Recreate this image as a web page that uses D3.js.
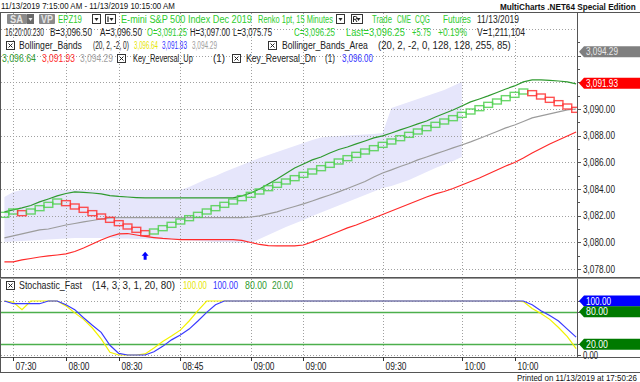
<!DOCTYPE html>
<html>
<head>
<meta charset="utf-8">
<script src="https://d3js.org/d3.v7.min.js"></script>
<style>
  body { margin: 0; padding: 0; background: #fff; }
  svg text { font-family: Arial, 'Liberation Sans', sans-serif; }
</style>
</head>
<body>
<svg id="chart" width="640" height="382"></svg>
<script>
// renko brick closes, one per bar
const brickClose = [3082.25, 3082.5, 3082.0, 3082.5, 3082.75, 3083.0, 3083.25, 3082.75, 3082.5, 3082.25,
  3082.0, 3081.75, 3081.5, 3081.25, 3081.0, 3080.75, 3080.5, 3081.0, 3081.25, 3081.5,
  3081.75, 3082.0, 3082.25, 3082.5, 3082.75, 3083.0, 3083.25, 3083.5, 3083.75, 3084.0,
  3084.25, 3084.5, 3084.75, 3085.0, 3085.25, 3085.5, 3085.75, 3086.0, 3086.25, 3086.5,
  3086.75, 3087.0, 3087.25, 3087.5, 3087.75, 3088.0, 3088.25, 3088.5, 3088.75, 3089.0,
  3089.25, 3089.5, 3089.75, 3090.0, 3090.25, 3090.5, 3090.75, 3091.0, 3091.25, 3091.5,
  3091.0, 3090.75, 3090.5, 3090.25, 3090.0, 3089.75];

const bbUpper = [3082.28, 3082.43, 3082.58, 3082.76, 3083.03, 3083.25, 3083.48, 3083.66, 3083.78, 3083.74,
  3083.70, 3083.63, 3083.51, 3083.44, 3083.40, 3083.36, 3083.33, 3083.33, 3083.33, 3083.33,
  3083.33, 3083.33, 3083.33, 3083.33, 3083.33, 3083.33, 3083.33, 3083.48, 3083.70, 3084.00,
  3084.38, 3084.75, 3085.16, 3085.58, 3085.88, 3086.18, 3086.40, 3086.70, 3086.96, 3087.15,
  3087.38, 3087.60, 3087.83, 3087.98, 3088.20, 3088.43, 3088.65, 3088.88, 3089.10, 3089.40,
  3089.66, 3089.93, 3090.23, 3090.53, 3090.75, 3090.98, 3091.24, 3091.50, 3091.73, 3092.03,
  3092.18, 3092.18, 3092.14, 3092.10, 3092.03, 3091.88];

const bbMid = [3080.33, 3080.48, 3080.63, 3080.78, 3080.93, 3081.00, 3081.15, 3081.30, 3081.41, 3081.53,
  3081.64, 3081.75, 3081.83, 3081.86, 3081.86, 3081.86, 3081.86, 3081.86, 3081.86, 3081.86,
  3081.86, 3081.86, 3081.86, 3081.86, 3081.86, 3081.86, 3081.86, 3081.86, 3081.90, 3081.98,
  3082.13, 3082.28, 3082.50, 3082.69, 3082.88, 3083.10, 3083.33, 3083.55, 3083.78, 3084.04,
  3084.30, 3084.56, 3084.90, 3085.20, 3085.43, 3085.69, 3085.91, 3086.18, 3086.40, 3086.63,
  3086.85, 3087.08, 3087.30, 3087.53, 3087.79, 3088.05, 3088.31, 3088.58, 3088.80, 3089.06,
  3089.33, 3089.48, 3089.63, 3089.78, 3089.93, 3090.00];

const bbLower = [3078.53, 3078.53, 3078.68, 3078.79, 3078.90, 3078.98, 3079.05, 3079.13, 3079.31, 3079.58,
  3079.88, 3080.18, 3080.44, 3080.63, 3080.66, 3080.55, 3080.44, 3080.36, 3080.29, 3080.25,
  3080.21, 3080.21, 3080.21, 3080.21, 3080.21, 3080.21, 3080.21, 3080.14, 3079.99, 3079.84,
  3079.76, 3079.73, 3079.73, 3079.73, 3079.80, 3080.03, 3080.29, 3080.55, 3080.81, 3081.08,
  3081.30, 3081.56, 3081.83, 3082.09, 3082.35, 3082.61, 3082.88, 3083.14, 3083.40, 3083.63,
  3083.81, 3084.04, 3084.30, 3084.56, 3084.83, 3085.13, 3085.43, 3085.73, 3085.99, 3086.33,
  3086.70, 3087.04, 3087.38, 3087.68, 3087.98, 3088.28];

// Bollinger_Bands_Area boundaries
const areaUpper = [3083.40, 3083.78, 3083.93, 3083.93, 3083.93, 3083.93, 3083.93, 3083.93, 3083.93, 3083.93,
  3083.93, 3083.93, 3083.93, 3083.93, 3083.93, 3083.93, 3083.93, 3083.93, 3083.93, 3083.93,
  3083.93, 3084.15, 3084.45, 3084.75, 3084.98, 3085.28, 3085.54, 3085.80, 3086.06, 3086.33,
  3086.55, 3086.78, 3087.00, 3087.23, 3087.45, 3087.68, 3087.86, 3087.94, 3087.98, 3088.01,
  3088.05, 3088.09, 3088.13, 3088.20, 3090.08, 3090.30, 3090.53, 3090.75, 3090.98, 3091.20,
  3091.43, 3091.73, 3092.03];
const areaLower = [3080.03, 3080.06, 3080.10, 3080.14, 3080.18, 3080.21, 3080.25, 3080.29, 3080.33, 3080.33,
  3080.33, 3080.33, 3080.33, 3080.29, 3080.29, 3080.25, 3080.25, 3080.21, 3080.21, 3080.18,
  3080.18, 3080.14, 3080.10, 3080.06, 3080.03, 3080.03, 3079.99, 3079.95, 3079.95, 3080.25,
  3080.55, 3080.85, 3081.15, 3081.41, 3081.68, 3081.98, 3082.24, 3082.50, 3082.76, 3083.03,
  3083.29, 3083.55, 3083.81, 3084.08, 3084.23, 3084.45, 3084.68, 3084.98, 3085.28, 3085.58,
  3085.84, 3086.10, 3086.40];

const keyRevUp = [{ bar: 16, price: 3079.0 }];

// Stochastic_Fast
const stochK = [100, 98, 84, 100, 100, 100, 100, 91, 78, 66, 50, 30, 5, 0, 0, 0, 2, 13, 25, 35,
  46, 63, 82, 100, 100, 100, 100, 100, 100, 100, 100, 100, 100, 100, 100, 100, 100, 100, 100, 100,
  100, 100, 100, 100, 100, 100, 100, 100, 100, 100, 100, 100, 100, 100, 100, 100, 100, 100, 100, 99,
  86, 77, 66, 51, 34, 12];
const stochD = [100, 95, 95, 95, 95, 100, 100, 93, 84, 69, 55, 42, 18, 3, 0, 0, 0, 6, 16, 28,
  37, 48, 63, 79, 93, 100, 100, 100, 100, 100, 100, 100, 100, 100, 100, 100, 100, 100, 100, 100,
  100, 100, 100, 100, 100, 100, 100, 100, 100, 100, 100, 100, 100, 100, 100, 100, 100, 100, 100, 100,
  93, 82, 73, 63, 48, 33];
const stochLevels = [80, 20];

const timeBars = [1, 7, 13, 20, 28, 34, 43, 52, 58];
const timeLabels = ["07:30", "08:00", "08:30", "08:45", "09:00", "09:00", "09:30", "10:00", "10:00"];
const priceTicks = [3078, 3080, 3082, 3084, 3086, 3088, 3090, 3092, 3094, 3096];
const priceLabels = [3078, 3080, 3082, 3084, 3086, 3088, 3090];

const svg = d3.select("#chart");
const paneR = 577, mainTop = 13, mainBot = 277, lowTop = 279, lowBot = 357, axisBot = 372;
const K = 0.82; // screen text is horizontally squeezed

const x = d3.scaleLinear().domain([-0.5, 65.1]).range([0, paneR]);
const y = d3.scaleLinear().domain([3078, 3090]).range([269, 109]);
const ys = d3.scaleLinear().domain([0, 100]).range([355, 301]);
const fmt = d3.format(",.2f");

// text squeezed horizontally to the width it has on the screenshot
function txt(g, px, py, s, fill, w, size, weight) {
  const t = g.append("text").attr("fill", fill).attr("font-size", size || 10).text(s);
  if (weight) t.attr("font-weight", weight);
  let k = K;
  if (w) {
    const L = t.node().getComputedTextLength();
    if (L > 0) k = w / L;
  }
  t.attr("transform", `translate(${px},${py}) scale(${k},1)`);
  return t;
}
function xbox(g, px, py) {
  g.append("rect").attr("x", px + 0.5).attr("y", py + 0.5).attr("width", 8).attr("height", 8)
    .attr("fill", "#fff").attr("stroke", "#333");
  g.append("path").attr("d", `M${px + 2.5},${py + 2.5}L${px + 6.5},${py + 6.5}M${px + 6.5},${py + 2.5}L${px + 2.5},${py + 6.5}`)
    .attr("stroke", "#222").attr("stroke-width", 1);
}
function dropBox(g, px, py, w, letter) {
  g.append("rect").attr("x", px + 0.5).attr("y", py + 0.5).attr("width", w).attr("height", 9)
    .attr("fill", "#fff").attr("stroke", "#333");
  const tx = px + w - 3.5;
  g.append("path").attr("d", `M${tx - 2},${py + 4}L${tx + 2},${py + 4}L${tx},${py + 7}Z`).attr("fill", "#222");
  if (letter === "I") g.append("line").attr("x1", px + 3).attr("x2", px + 3).attr("y1", py + 2.5).attr("y2", py + 8)
    .attr("stroke", "#222").attr("stroke-width", 1.2);
  if (letter === "R") g.append("path").attr("d", `M${px + 2.5},${py + 8}L${px + 2.5},${py + 2.5}L${px + 4.5},${py + 2.5}Q${px + 6},${py + 2.5} ${px + 6},${py + 4}Q${px + 6},${py + 5.3} ${px + 4.5},${py + 5.3}L${px + 2.5},${py + 5.3}M${px + 4.3},${py + 5.3}L${px + 6},${py + 8}`)
    .attr("fill", "none").attr("stroke", "#222").attr("stroke-width", 1);
}

// clip for panes
svg.append("clipPath").attr("id", "mainClip").append("rect")
  .attr("x", 1).attr("y", mainTop).attr("width", paneR - 1).attr("height", mainBot - mainTop);
svg.append("clipPath").attr("id", "lowClip").append("rect")
  .attr("x", 1).attr("y", lowTop).attr("width", paneR - 1).attr("height", lowBot - lowTop);

const main = svg.append("g").attr("clip-path", "url(#mainClip)");

// area
const idx = d3.range(areaUpper.length);
main.append("path").datum(idx)
  .attr("d", d3.area().x(i => x(i)).y0(i => y(areaLower[i])).y1(i => y(areaUpper[i])))
  .attr("fill", "#e6e6fb");

// grid
const grid = main.append("g").attr("stroke", "#a0a0a0").attr("stroke-dasharray", "1,2").attr("stroke-width", 1);
priceTicks.forEach(p => grid.append("line").attr("x1", 1).attr("x2", paneR)
  .attr("y1", Math.round(y(p)) + 0.5).attr("y2", Math.round(y(p)) + 0.5));
timeBars.forEach(b => grid.append("line").attr("x1", Math.round(x(b)) + 0.5).attr("x2", Math.round(x(b)) + 0.5)
  .attr("y1", mainTop).attr("y2", mainBot));

// bollinger lines
const line = d3.line().x((d, i) => x(i)).y(d => y(d));
main.append("path").datum(bbMid).attr("d", line).attr("fill", "none").attr("stroke", "#9c9c9c").attr("stroke-width", 1.2);
main.append("path").datum(bbLower).attr("d", line).attr("fill", "none").attr("stroke", "#ff2a2a").attr("stroke-width", 1.2);
main.append("path").datum(bbUpper).attr("d", line).attr("fill", "none").attr("stroke", "#2f9a2f").attr("stroke-width", 1.2);

// renko bricks
const bw = x(1) - x(0);
const bh = 0.375;
brickClose.forEach((c, i) => {
  const up = i === 0 ? true : c > brickClose[i - 1];
  const top = up ? c : c + bh, bot = up ? c - bh : c;
  main.append("rect").attr("x", x(i) - bw / 2).attr("y", y(top)).attr("width", bw)
    .attr("height", y(bot) - y(top)).attr("fill", "none")
    .attr("stroke", up ? "#50d050" : "#ff3333").attr("stroke-width", 1.4).attr("stroke-opacity", 0.85);
});

// key reversal up arrows
keyRevUp.forEach(k => {
  const ax = x(k.bar), ay = y(k.price);
  main.append("path").attr("d", `M${ax},${ay - 4}L${ax + 3.5},${ay}L${ax + 1.5},${ay}L${ax + 1.5},${ay + 4}L${ax - 1.5},${ay + 4}L${ax - 1.5},${ay}L${ax - 3.5},${ay}Z`)
    .attr("fill", "#0000ff");
});

// lower pane
const low = svg.append("g").attr("clip-path", "url(#lowClip)");
const lgrid = low.append("g").attr("stroke", "#a0a0a0").attr("stroke-dasharray", "1,2");
[100, 0].forEach(v => lgrid.append("line").attr("x1", 1).attr("x2", paneR)
  .attr("y1", Math.round(ys(v)) + 0.5).attr("y2", Math.round(ys(v)) + 0.5));
timeBars.forEach(b => lgrid.append("line").attr("x1", Math.round(x(b)) + 0.5).attr("x2", Math.round(x(b)) + 0.5)
  .attr("y1", lowTop).attr("y2", lowBot));
stochLevels.forEach(v => low.append("line").attr("x1", 1).attr("x2", paneR)
  .attr("y1", Math.round(ys(v)) + 0.5).attr("y2", Math.round(ys(v)) + 0.5)
  .attr("stroke", "#4caf4c").attr("stroke-width", 1.3));
const sline = d3.line().x((d, i) => x(i)).y(d => ys(d));
low.append("path").datum(stochK).attr("d", sline).attr("fill", "none").attr("stroke", "#f2f200").attr("stroke-width", 1.2);
low.append("path").datum(stochD).attr("d", sline).attr("fill", "none").attr("stroke", "#3a3aff").attr("stroke-width", 1.2);

// frames
const fr = svg.append("g").attr("stroke", "#555").attr("fill", "none");
fr.append("line").attr("x1", 0).attr("x2", 640).attr("y1", 12.5).attr("y2", 12.5);
fr.append("line").attr("x1", 0.5).attr("x2", 0.5).attr("y1", 12).attr("y2", axisBot);
fr.append("line").attr("x1", paneR + 0.5).attr("x2", paneR + 0.5).attr("y1", 12).attr("y2", lowBot);
fr.append("line").attr("x1", 0).attr("x2", 640).attr("y1", mainBot + 0.5).attr("y2", mainBot + 0.5);
fr.append("line").attr("x1", 0).attr("x2", 640).attr("y1", lowTop - 0.5).attr("y2", lowTop - 0.5).attr("stroke", "#999");
fr.append("line").attr("x1", 0).attr("x2", 640).attr("y1", lowBot + 0.5).attr("y2", lowBot + 0.5);
fr.append("line").attr("x1", 0).attr("x2", 640).attr("y1", axisBot + 0.5).attr("y2", axisBot + 0.5);

// price axis
const pax = svg.append("g");
d3.range(3077, 3096).forEach(p => {
  const py = Math.round(y(p)) + 0.5;
  if (py > mainTop && py < mainBot) pax.append("line").attr("x1", paneR).attr("x2", paneR + (p % 2 === 0 ? 4 : 3))
    .attr("y1", py).attr("y2", py).attr("stroke", "#555");
});
priceLabels.forEach(p => txt(pax, 583, y(p) + 3.5, fmt(p), "#222", 32, 10));

function tag(g, py, s, fill, color, w) {
  g.append("path").attr("d", `M579,${py}L584,${py - 5.5}L640,${py - 5.5}L640,${py + 5.5}L584,${py + 5.5}Z`).attr("fill", fill);
  txt(g, 586, py + 3.5, s, color, w, 10);
}
tag(pax, y(3094.29), "3,094.29", "#7f7f7f", "#e8e8e8", 32);
tag(pax, y(3091.93), "3,091.93", "#ff0000", "#ffffff", 32);

// stochastic axis
[0, 20, 80, 100].forEach(v => pax.append("line").attr("x1", paneR).attr("x2", paneR + 4)
  .attr("y1", Math.round(ys(v)) + 0.5).attr("y2", Math.round(ys(v)) + 0.5).attr("stroke", "#555"));
tag(pax, ys(100), "100.00", "#0000ff", "#ffffff", 25);
tag(pax, ys(80), "80.00", "#007a00", "#ffffff", 22);
tag(pax, ys(20), "20.00", "#007a00", "#ffffff", 22);
txt(pax, 583, ys(0) + 3.5, "0.00", "#222", 15, 10);

// time axis
const tax = svg.append("g");
timeBars.forEach((b, i) => {
  const tx = Math.round(x(b)) + 0.5;
  tax.append("line").attr("x1", tx).attr("x2", tx).attr("y1", lowBot).attr("y2", lowBot + 4).attr("stroke", "#333");
  txt(tax, tx + 2, 370, timeLabels[i], "#222", 21, 10);
});

// titles
const hd = svg.append("g");
txt(hd, 1, 9, "11/13/2019 7:15:00 AM - 11/13/2019 10:15:00 AM", "#111", 174, 9);
txt(hd, 500, 9.5, "MultiCharts .NET64 Special Edition", "#111", 136, 9, "bold");
txt(hd, 517, 381, "Printed on 11/13/2019 at 17:50:26", "#111", 120, 9);

// legend line 1
hd.append("rect").attr("x", 7).attr("y", 14).attr("width", 20).attr("height", 10).attr("fill", "#8a8a8a").attr("rx", 1);
hd.append("rect").attr("x", 27).attr("y", 14).attr("width", 7).attr("height", 10).attr("fill", "#6a6a6a");
hd.append("path").attr("d", "M28.5,18L32.5,18L30.5,21Z").attr("fill", "#eee");
txt(hd, 10, 22.5, "SA", "#e6e6e6", 13, 10, "bold");
hd.append("rect").attr("x", 39).attr("y", 14).attr("width", 16).attr("height", 10).attr("fill", "#8a8a8a").attr("rx", 1);
txt(hd, 41, 22.5, "VP", "#e6e6e6", 12, 10, "bold");
txt(hd, 58, 23, "EPZ19", "#2ecc2e", 24, 10);
dropBox(hd, 92, 14, 8, "");
dropBox(hd, 105, 14, 10, "I");
txt(hd, 121, 23, "E-mini S&P 500 Index Dec 2019", "#2ecc2e", 131, 10);
txt(hd, 258, 23, "Renko 1pt, 15 Minutes", "#2ecc2e", 75, 10);
dropBox(hd, 336, 14, 8, "");
dropBox(hd, 351, 14, 11, "R");
txt(hd, 372, 23, "Trade", "#2ecc2e", 20, 10);
txt(hd, 397, 23, "CME", "#2ecc2e", 14, 10);
txt(hd, 415, 23, "CQG", "#2ecc2e", 15, 10);
txt(hd, 443, 23, "Futures", "#2ecc2e", 28, 10);
txt(hd, 477, 23, "11/13/2019", "#222", 42, 10);

// legend line 2
txt(hd, 5, 36, "16:20:00.230", "#222", 39, 10);
txt(hd, 50, 36, "B=3,096.50", "#222", 42, 10);
txt(hd, 100, 36, "A=3,096.50", "#222", 42, 10);
txt(hd, 147, 36, "O=3,091.25", "#2ecc2e", 40, 10);
txt(hd, 190, 36, "H=3,097.00", "#222", 40, 10);
txt(hd, 233, 36, "L=3,075.75", "#222", 39, 10);
txt(hd, 294, 36, "C=3,096.25", "#2ecc2e", 41, 10);
txt(hd, 346, 36, "Last=3,096.25", "#2ecc2e", 59, 10);
txt(hd, 412, 36, "+5.75", "#2ecc2e", 19, 10);
txt(hd, 438, 36, "+0.19%", "#2ecc2e", 29, 10);
txt(hd, 477, 36, "V=1,211,104", "#222", 48, 10);

// legend line 3
xbox(hd, 6, 41);
txt(hd, 19, 49, "Bollinger_Bands", "#222", 63, 10);
txt(hd, 93, 49, "(20, 2, -2, 0)", "#222", 36, 10);
txt(hd, 134, 49, "3,096.64", "#e6e600", 24, 10);
txt(hd, 162, 49, "3,091.93", "#3333ff", 25, 10);
txt(hd, 192, 49, "3,094.29", "#a0a0a0", 25, 10);
xbox(hd, 268, 41);
txt(hd, 282, 49, "Bollinger_Bands_Area", "#222", 86, 10);
txt(hd, 378, 49, "(20, 2, -2, 0, 128, 128, 255, 85)", "#222", 133, 10);

// legend line 4
txt(hd, 2, 62, "3,096.64", "#2f9a2f", 34, 10);
txt(hd, 42, 62, "3,091.93", "#ff2a2a", 33, 10);
txt(hd, 80, 62, "3,094.29", "#a0a0a0", 33, 10);
xbox(hd, 117, 54);
txt(hd, 133, 62, "Key_Reversal_Up", "#222", 60, 10);
txt(hd, 213, 62, "(1)", "#222", 12, 10);
xbox(hd, 232, 54);
txt(hd, 246, 62, "Key_Reversal_Dn", "#222", 70, 10);
txt(hd, 325, 62, "(1)", "#222", 10, 10);
txt(hd, 342, 62, "3,096.00", "#3333ff", 31, 10);

// stochastic legend
xbox(hd, 6, 281);
txt(hd, 19, 289, "Stochastic_Fast", "#222", 63, 10);
txt(hd, 92, 289, "(14, 3, 3, 1, 20, 80)", "#222", 83, 10);
txt(hd, 183, 289, "100.00", "#e6e600", 24, 10);
txt(hd, 213, 289, "100.00", "#3333ff", 25, 10);
txt(hd, 245, 289, "80.00", "#2f9a2f", 22, 10);
txt(hd, 272, 289, "20.00", "#2f9a2f", 21, 10);
</script>
</body>
</html>
